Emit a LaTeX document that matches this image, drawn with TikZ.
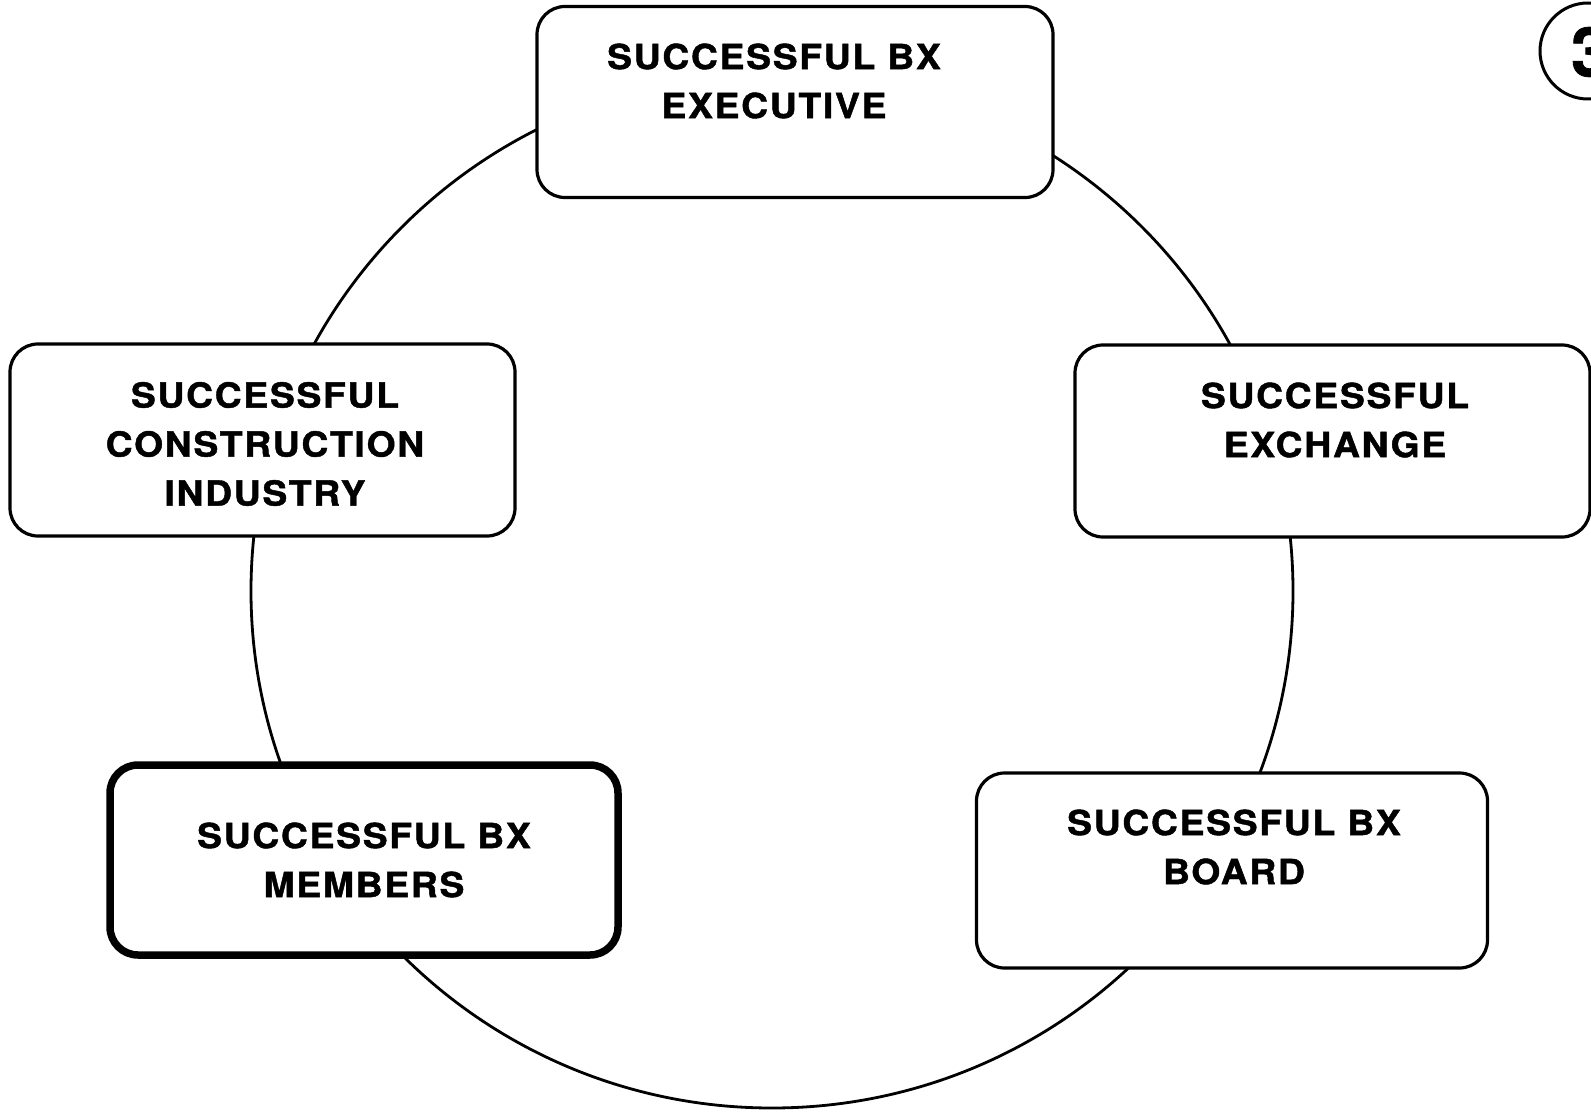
\documentclass[tikz,border=0pt]{standalone}
\usepackage{fontspec}
\setmainfont{TeX Gyre Heros}[FakeStretch=1.08, LetterSpace=5, FakeBold=1.3]
\newfontfamily\digitfont{TeX Gyre Heros}[FakeBold=1.2]
\begin{document}
\begin{tikzpicture}[x=1pt,y=-1pt,
  box/.style={draw, line width=3.2pt, rounded corners=28pt, fill=white, inner sep=0pt},
  thickbox/.style={box, line width=7.5pt},
  lbl/.style={align=center, font=\fontsize{34.5}{49}\selectfont\bfseries, inner sep=0pt}]
\useasboundingbox (0,0) rectangle (1591,1115);
% ring
\draw[line width=2.8pt] (772,591) ellipse [x radius=521, y radius=517];
% boxes
\node[box, minimum width=516pt, minimum height=191pt] (exec) at (795,102) {};
\node[box, minimum width=505pt, minimum height=192pt] (constr) at (262.5,440) {};
\node[box, minimum width=515pt, minimum height=192pt] (exch) at (1332.5,441) {};
\node[thickbox, minimum width=508pt, minimum height=190pt] (memb) at (364,860) {};
\node[box, minimum width=511pt, minimum height=195pt] (board) at (1232,870.5) {};
% labels
\node[lbl] (t1) at (774,81) {SUCCESSFUL BX\\EXECUTIVE};
\node[lbl] (t2) at (265,444) {SUCCESSFUL\\CONSTRUCTION\\INDUSTRY};
\node[lbl] (t3) at (1335,420) {SUCCESSFUL\\EXCHANGE};
\node[lbl] (t4) at (364,860) {SUCCESSFUL BX\\MEMBERS};
\node[lbl] (t5) at (1234,847) {SUCCESSFUL BX\\BOARD};
% page number
\node[draw, circle, line width=3pt, minimum size=96pt, inner sep=0pt] (pg) at (1588,51) {};
\node[font=\digitfont\fontsize{68}{68}\selectfont\bfseries, inner sep=0pt] (pgn) at (1590,52) {3};
\end{tikzpicture}
\end{document}
